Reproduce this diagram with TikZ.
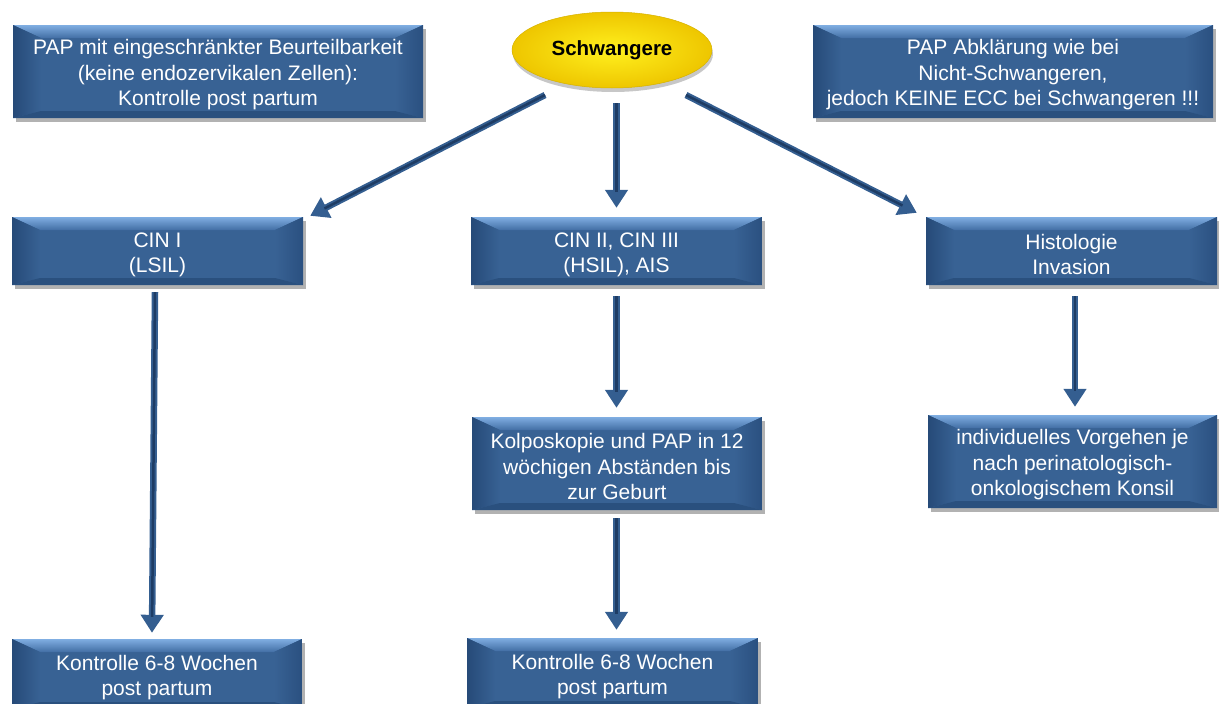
\documentclass[tikz,border=0pt]{standalone}
\usepackage{fontspec}
\setmainfont{Liberation Sans}
\usetikzlibrary{arrows.meta,calc,shadows,shapes.geometric}

\definecolor{boxface}{RGB}{56,98,148}
\definecolor{bevlight}{RGB}{128,174,226}
\definecolor{bevmid}{RGB}{66,110,164}
\definecolor{bevleft}{RGB}{38,74,120}
\definecolor{bevright}{RGB}{42,80,128}
\definecolor{bevbottom}{RGB}{42,80,126}
\definecolor{arrcol}{RGB}{52,94,144}
\definecolor{arrdark}{RGB}{30,60,100}
\definecolor{yelin}{RGB}{255,240,30}
\definecolor{yelout}{RGB}{238,198,0}

% strut that sets the first text line a little lower in its box
\newcommand{\firstline}{\rule{0pt}{22pt}}

\tikzset{
  bevelbox/.style={
    rectangle, inner sep=0pt, fill=boxface, text=white, align=center,
    font=\fontsize{21}{25.5}\selectfont,
    drop shadow={shadow xshift=3pt, shadow yshift=-4pt, opacity=0.3, fill=black},
    path picture={
      \coordinate (q1) at (path picture bounding box.north west);
      \coordinate (q2) at (path picture bounding box.north east);
      \coordinate (q3) at (path picture bounding box.south east);
      \coordinate (q4) at (path picture bounding box.south west);
      \coordinate (i1) at ($(q1)+(28pt,-13pt)$);
      \coordinate (i2) at ($(q2)+(-28pt,-13pt)$);
      \coordinate (i3) at ($(q3)+(-28pt,7pt)$);
      \coordinate (i4) at ($(q4)+(28pt,7pt)$);
      \shade[top color=bevlight, bottom color=bevmid] (q1)--(q2)--(i2)--(i1)--cycle;
      \shade[left color=bevleft, right color=boxface] (q1)--(i1)--(i4)--(q4)--cycle;
      \shade[left color=boxface, right color=bevright] (q2)--(i2)--(i3)--(q3)--cycle;
      \fill[bevbottom] (q4)--(i4)--(i3)--(q3)--cycle;
    }
  },
  arr/.style={draw=arrcol, line width=6.5pt, -{Triangle[width=22pt,length=18pt]},
    postaction={draw=arrdark, line width=2.5pt, -, shorten >=16pt}}
}

\begin{document}
\begin{tikzpicture}[x=1pt,y=-1pt]
\useasboundingbox (0,0) rectangle (1219,704);
\clip (0,0) rectangle (1219,704);

% top row
\node[bevelbox, minimum width=410pt, minimum height=93pt] (pap) at (218,71.5)
  {\firstline PAP mit eingeschränkter Beurteilbarkeit\\(keine endozervikalen Zellen):\\Kontrolle post partum};
\node[ellipse, minimum width=200pt, minimum height=76pt, inner sep=0pt,
      inner color=yelin, outer color=yelout, draw=yelout!90!black, line width=0.5pt,
      drop shadow={shadow xshift=1pt, shadow yshift=-4pt, opacity=0.22, fill=black},
      font=\fontsize{20.5}{24}\selectfont\bfseries] (ell) at (612,50) {Schwangere};
\node[bevelbox, minimum width=400pt, minimum height=93pt] (abkl) at (1013,71.5)
  {\firstline PAP Abklärung wie bei\\Nicht-Schwangeren,\\jedoch KEINE ECC bei Schwangeren !!!};

% second row
\node[bevelbox, minimum width=291pt, minimum height=68pt] (cin1) at (157.5,251) {\firstline CIN I\\(LSIL)};
\node[bevelbox, minimum width=291pt, minimum height=68pt] (cin2) at (616.5,251) {\firstline CIN II, CIN III\\(HSIL), AIS};
\node[bevelbox, minimum width=291pt, minimum height=68pt] (hist) at (1071.5,251) {\firstline Histologie\\Invasion};

% third row
\node[bevelbox, minimum width=290pt, minimum height=93pt] (kolpo) at (617,463.5)
  {\firstline Kolposkopie und PAP in 12\\wöchigen Abständen bis\\zur Geburt};
\node[bevelbox, minimum width=289pt, minimum height=93pt] (indiv) at (1072.5,461.5)
  {\firstline individuelles Vorgehen je\\nach perinatologisch-\\onkologischem Konsil};

% bottom row
\node[bevelbox, minimum width=290pt, minimum height=70pt] (kon1) at (157,674)
  {\firstline Kontrolle 6-8 Wochen\\post partum};
\node[bevelbox, minimum width=291pt, minimum height=70pt] (kon2) at (612.5,673)
  {\firstline Kontrolle 6-8 Wochen\\post partum};

% connectors
\draw[arr] ([shift={(-67,45)}]ell.center) -- ([shift={(7,-1)}]cin1.north east);
\draw[arr] ([shift={(4.5,53)}]ell.center) -- ([shift={(0,-9)}]cin2.north);
\draw[arr] ([shift={(74,45)}]ell.center) -- ([shift={(-9,-4)}]hist.north west);
\draw[arr] ([shift={(-2.5,7)}]cin1.south) -- ([shift={(-5,-6)}]kon1.north);
\draw[arr] ([shift={(0,11)}]cin2.south) -- ([shift={(-0.5,-9)}]kolpo.north);
\draw[arr] ([shift={(-0.5,8)}]kolpo.south) -- ([shift={(4,-8)}]kon2.north);
\draw[arr] ([shift={(3.5,11)}]hist.south) -- ([shift={(2.5,-8)}]indiv.north);
\end{tikzpicture}
\end{document}
